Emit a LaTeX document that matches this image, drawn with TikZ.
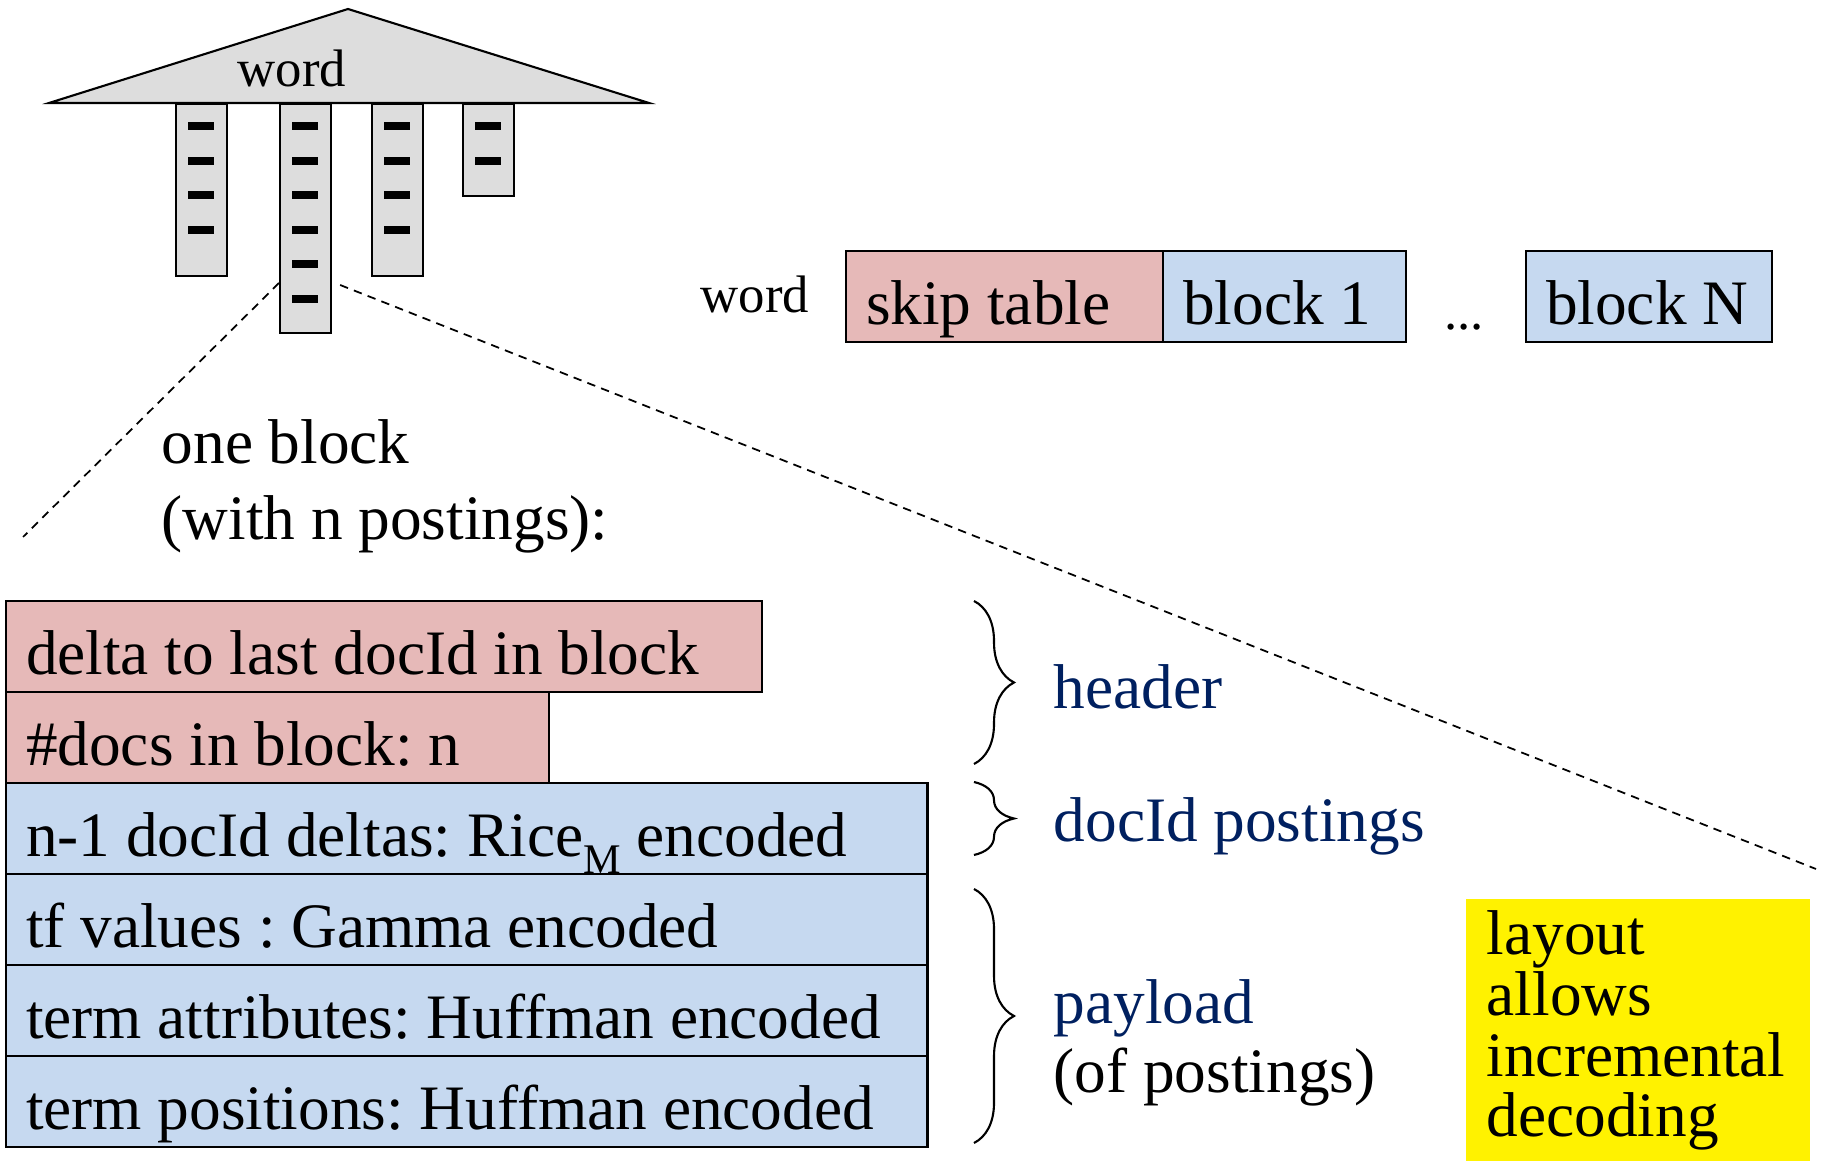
\documentclass[tikz,border=0pt]{standalone}
\usepackage{fontspec}
\setmainfont{Liberation Serif}
\usetikzlibrary{decorations.pathreplacing}
\frenchspacing

\definecolor{skippink}{HTML}{E6B9B8}
\definecolor{blockblue}{HTML}{C6D9F0}
\definecolor{listgray}{HTML}{DDDDDD}
\definecolor{labelnavy}{HTML}{002060}
\newcommand{\bigfont}{\fontsize{18}{21.6}\selectfont}
\newcommand{\wordfont}{\fontsize{15}{18}\selectfont}

\tikzset{
  cell/.style={draw,line width=0.6pt,anchor=north west,align=flush left,inner xsep=0.2cm,inner ysep=0pt,
    outer sep=0pt,text height=0.73cm,text depth=0.18cm,font=\bigfont},
  hdrcell/.style={cell,fill=skippink},
  paycell/.style={cell,fill=blockblue},
  column/.style={draw,line width=0.6pt,fill=listgray,anchor=north west,minimum width=0.51cm,inner sep=0pt},
  partlabel/.style={anchor=base west,inner sep=0pt,font=\bigfont,text=labelnavy},
  zoomline/.style={dash pattern=on 2.4pt off 1.8pt,line width=0.5pt},
  partbrace/.style={decorate,decoration={brace,amplitude=0.4cm},line width=0.6pt}
}

\begin{document}
\begin{tikzpicture}[x=0.01cm,y=-0.01cm]
  \useasboundingbox (0,0) rectangle (1829,1161);

  % posting lists below the word
  \foreach \n/\x/\h/\k in {1/175/172/4, 2/279/229/6, 3/371/172/4, 4/462/92/2} {
    \node[column,minimum height=\h*0.01cm] (col\n) at (\x,103) {};
    \foreach \i in {1,...,\k}
      \fill (\x+13,122+34.6*\i-34.6) rectangle ++(26,8);
  }
  \draw[line width=0.6pt,fill=listgray] (49,103) -- (348,9) -- (649,103) -- cycle;
  \node[font=\wordfont,anchor=base,inner sep=0pt] (roof) at (292,87) {word};

  % list of one word on disk
  \node[font=\wordfont,anchor=base west,inner sep=0pt] (word) at (700,313) {word};
  \node[hdrcell,text width=2.77cm] (skip) at (846,251) {skip table};
  \node[paycell,text width=2.03cm] (blk1) at (skip.north east) {block 1};
  \node[font=\wordfont,anchor=base,inner sep=0pt] (dots) at (1464,330) {...};
  \node[paycell,text width=2.06cm] (blkN) at (1526,251) {block N};

  % one block, blown up
  \coordinate (zl) at (23,537);
  \coordinate (zr) at (1816,869);
  \draw[zoomline] (col2.west |- 0,283) -- (zl);
  \draw[zoomline] ([xshift=0.08cm]col2.east |- 0,285) -- (zr);
  \node[font=\bigfont,align=left,anchor=north west,inner sep=0pt] (oneblk) at (161,419) {one block\\(with n postings):};

  \node[hdrcell,text width=7.16cm] (delta) at (6,601) {delta to last docId in block};
  \node[hdrcell,text width=5.03cm] (ndocs) at (delta.south west) {\#docs in block: n};
  \node[paycell,text width=8.81cm] (gaps) at (ndocs.south west)
    {n-1 docId deltas: Rice\raisebox{-5pt}{\fontsize{12}{12}\selectfont M} encoded};
  \node[paycell,text width=8.81cm] (tf) at (gaps.south west) {tf values : Gamma encoded};
  \node[paycell,text width=8.81cm] (attr) at (tf.south west) {term attributes: Huffman encoded};
  \node[paycell,text width=8.81cm] (pos) at (attr.south west) {term positions: Huffman encoded};

  % parts of the block
  \coordinate (h1) at (974,601);
  \coordinate (h2) at (974,764);
  \coordinate (d1) at (974,782);
  \coordinate (d2) at (974,855);
  \coordinate (p1) at (974,889);
  \coordinate (p2) at (974,1143);
  \draw[partbrace] (h1) -- (h2);
  \draw[partbrace] (d1) -- (d2);
  \draw[partbrace] (p1) -- (p2);
  \node[partlabel] (header) at (1053,709) {header};
  \node[partlabel] (docids) at (1053,842) {docId postings};
  \node[partlabel] (payload) at (1053,1024) {payload};
  \node[partlabel,text=black] (ofpost) at (1053,1093) {(of postings)};

  \node[fill=yellow,anchor=north west,align=left,text width=3.02cm,inner xsep=0.21cm,
    minimum height=2.63cm,font=\fontsize{18}{17.3}\selectfont] (note) at (1465,898)
    {layout\\allows\\incremental\\decoding};
\end{tikzpicture}
\end{document}
